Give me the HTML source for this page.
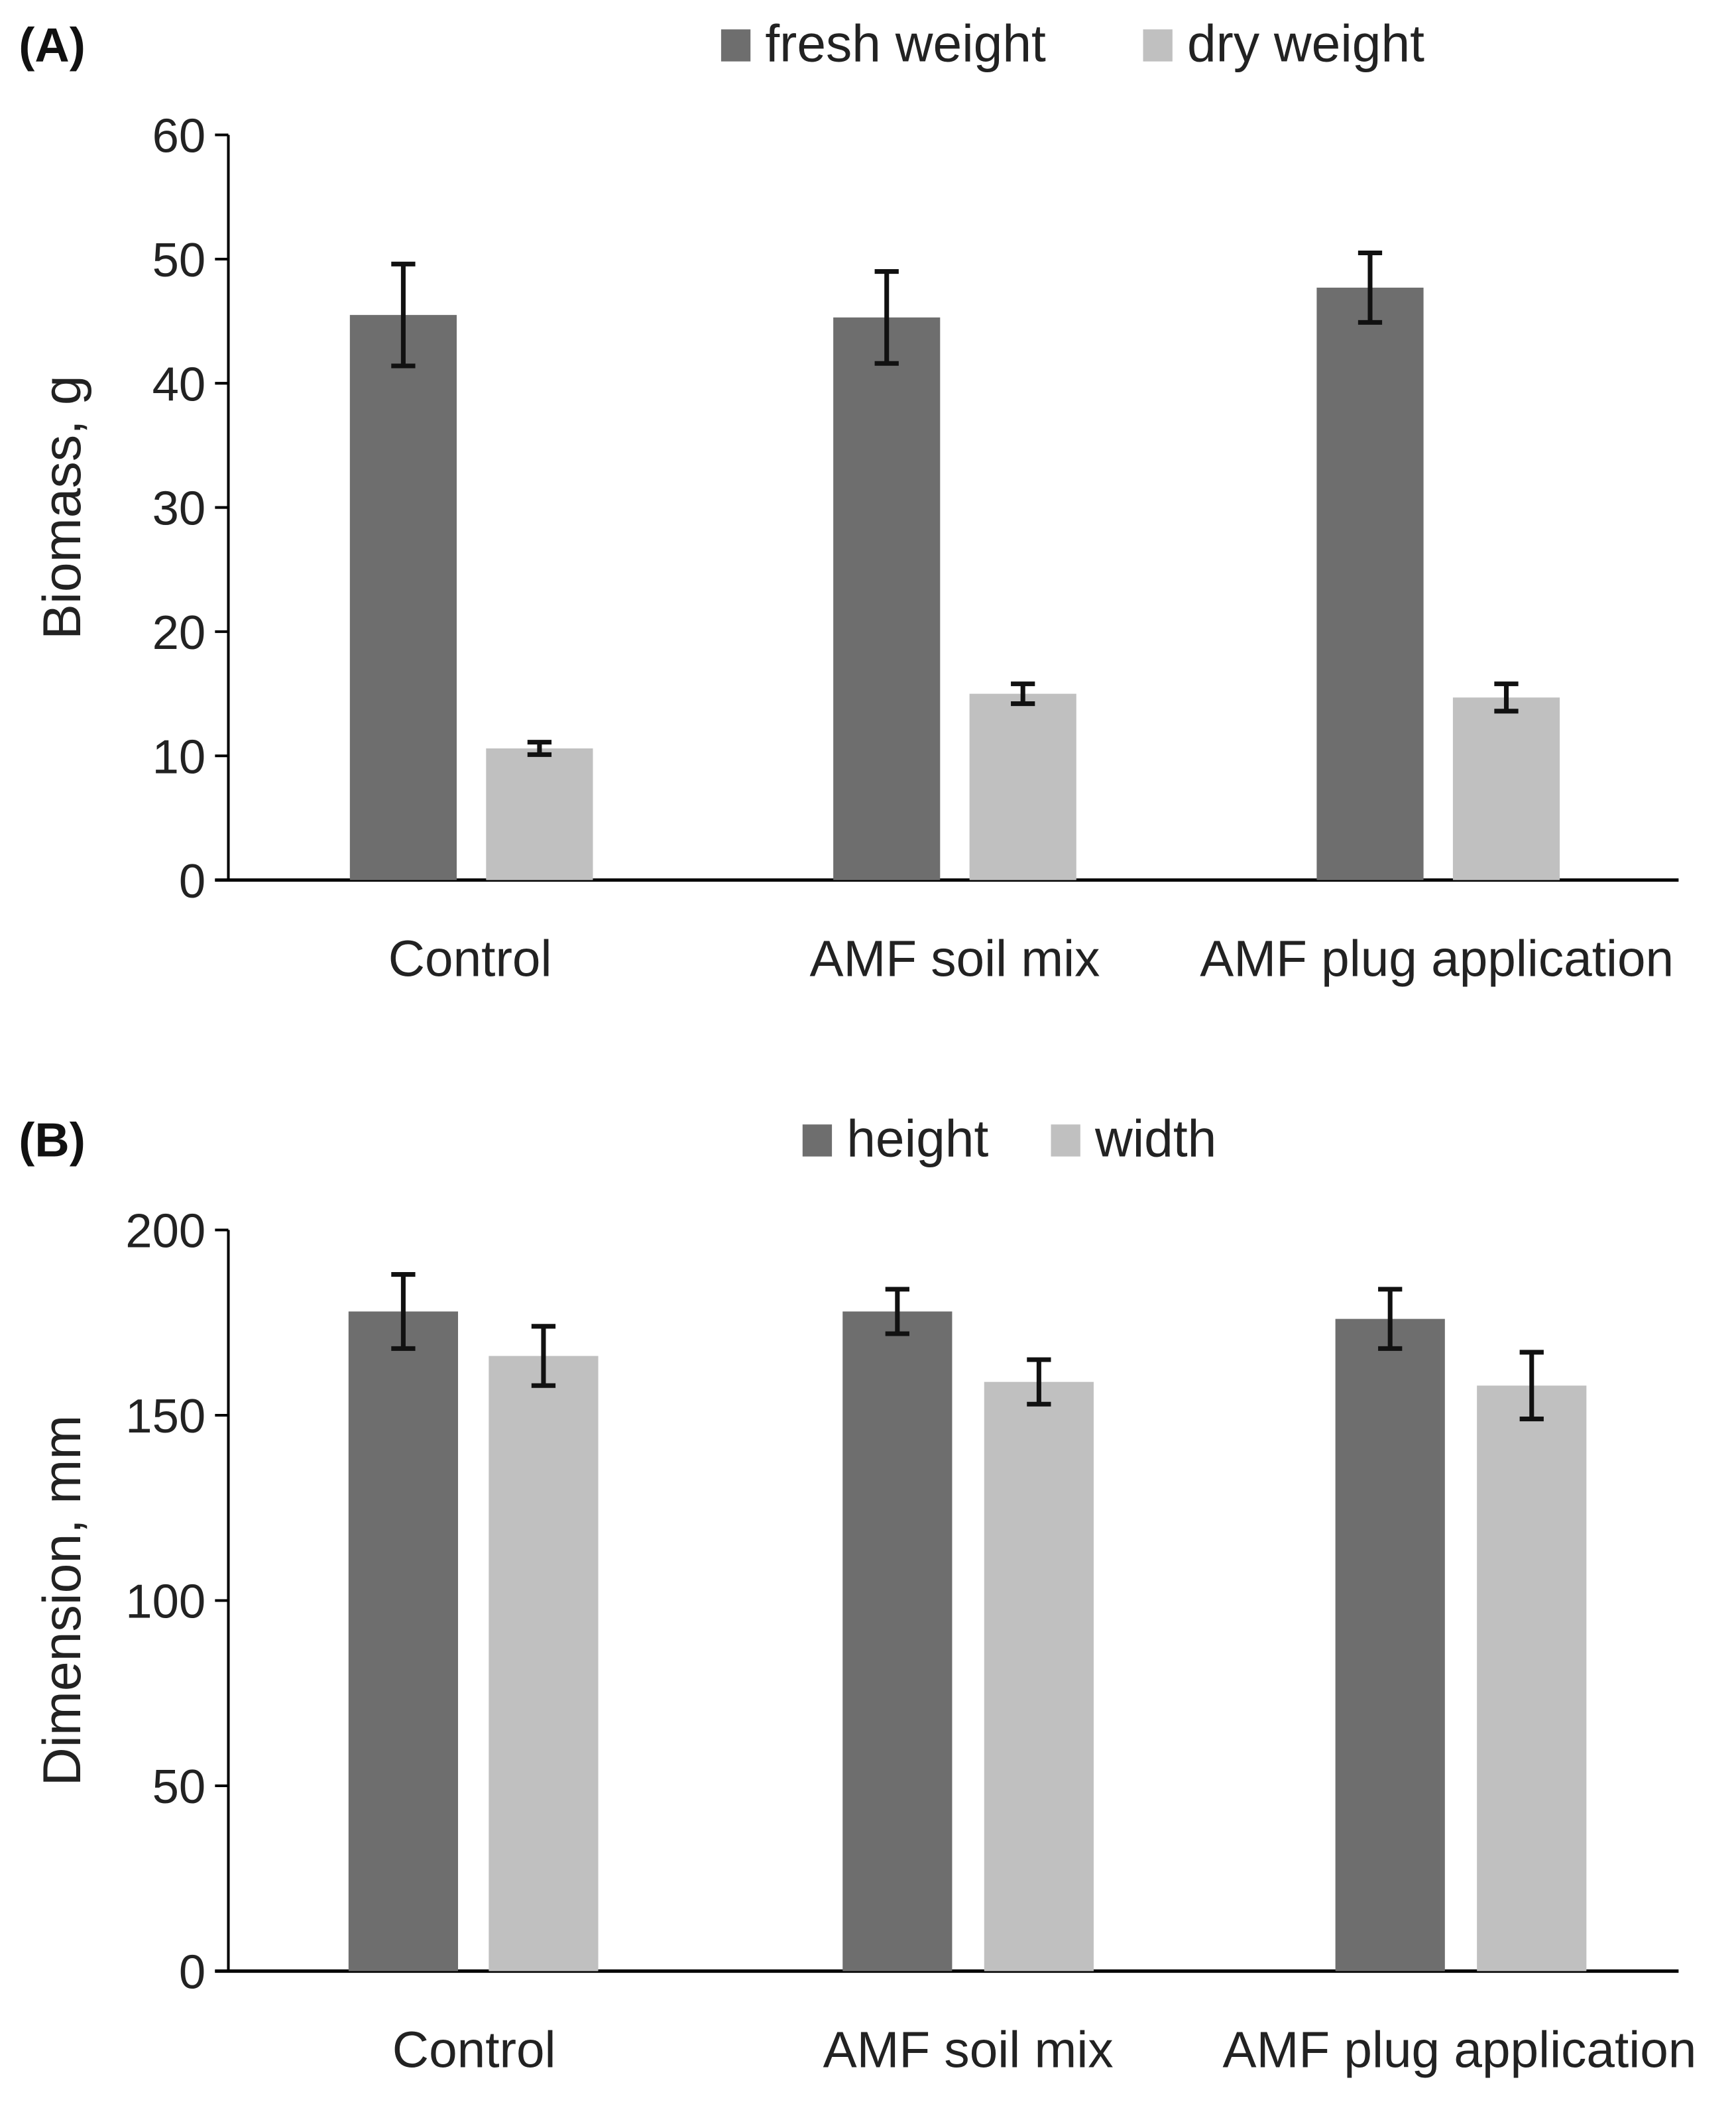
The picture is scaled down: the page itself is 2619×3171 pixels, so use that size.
<!DOCTYPE html>
<html><head><meta charset="utf-8"><style>
html,body{margin:0;padding:0;background:#fff;}
svg{display:block;font-family:"Liberation Sans",sans-serif;}
</style></head><body>
<svg id="chart" width="2619" height="3171" viewBox="0 0 1300 1574" preserveAspectRatio="none" xmlns="http://www.w3.org/2000/svg"></svg>
<script>
const categories = ["Control", "AMF soil mix", "AMF plug application"];
const freshWeight = [45.5, 45.3, 47.7];
const freshErr = [4.1, 3.7, 2.8];
const dryWeight = [10.6, 15.0, 14.7];
const dryErr = [0.5, 0.8, 1.1];
const ticksA = [0, 10, 20, 30, 40, 50, 60];
const heightVals = [178, 178, 176];
const heightErr = [10, 6, 8];
const widthVals = [166, 159, 158];
const widthErr = [8, 6, 9];
const ticksB = [0, 50, 100, 150, 200];

const svg = document.getElementById('chart');
const NS = 'http://www.w3.org/2000/svg';
function mk(tag, attrs, name, parent){
  const e = document.createElementNS(NS, tag);
  for (const k in attrs) e.setAttribute(k, attrs[k]);
  
  
  (parent||svg).appendChild(e);
  return e;
}
function panel(cfg){
  const g = mk('g', {}, cfg.id);
  const y = v => cfg.y0 - (v - 0) / cfg.max * (cfg.y0 - cfg.yTop);
  mk('line', {x1:cfg.ax, y1:cfg.yTop, x2:cfg.ax, y2:cfg.y0, stroke:'#000', 'stroke-width':2}, 'y-axis-line', g);
  mk('line', {x1:cfg.ax-10, y1:cfg.y0, x2:1257, y2:cfg.y0, stroke:'#000', 'stroke-width':2.5}, 'x-axis-line', g);
  cfg.ticks.forEach(t => {
    mk('line', {x1:cfg.ax-10, y1:y(t), x2:cfg.ax, y2:y(t), stroke:'#000', 'stroke-width':2}, 'y-tick', g);
    const tx = mk('text', {x:cfg.ax-17, y:y(t)+13, 'text-anchor':'end', 'font-size':36, fill:'#222'}, 'y-tick-label', g);
    tx.textContent = t;
  });
  const yt = mk('text', {x:0, y:0, transform:`translate(60,${(cfg.yTop+cfg.y0)/2}) rotate(-90)`, 'text-anchor':'middle', 'font-size':40, fill:'#222'}, 'y-axis-title', g);
  yt.textContent = cfg.ytitle;
  const pl = mk('text', {x:14, y:cfg.labelY, 'font-size':36, 'font-weight':'bold', fill:'#111'}, 'panel-label', g);
  pl.textContent = cfg.label;
  categories.forEach((c, i) => {
    [[cfg.s1, cfg.e1, '#6e6e6e', cfg.x1[i], 'bar-'+cfg.n1],[cfg.s2, cfg.e2, '#c0c0c0', cfg.x2[i], 'bar-'+cfg.n2]].forEach(([s, e, col, x, nm]) => {
      mk('rect', {x:x, y:y(s[i]), width:cfg.bw, height:cfg.y0 - y(s[i]), fill:col}, nm, g);
      const cx = x + cfg.bw/2, hi = y(s[i]+e[i]), lo = y(s[i]-e[i]);
      mk('line', {x1:cx, y1:hi, x2:cx, y2:lo, stroke:'#111', 'stroke-width':3.5}, 'error-bar', g);
      mk('line', {x1:cx-9, y1:hi, x2:cx+9, y2:hi, stroke:'#111', 'stroke-width':3.5}, 'error-cap', g);
      mk('line', {x1:cx-9, y1:lo, x2:cx+9, y2:lo, stroke:'#111', 'stroke-width':3.5}, 'error-cap', g);
    });
    const cl = mk('text', {x:cfg.cx[i], y:cfg.catY, 'text-anchor':'middle', 'font-size':38, fill:'#222'}, 'x-category-label', g);
    cl.textContent = c;
  });
  cfg.legend.forEach(l => {
    const lg = mk('g', {}, 'legend-entry', g);
    mk('rect', {x:l.x, y:cfg.legY-24, width:22, height:24, fill:l.col}, 'legend-swatch', lg);
    const t = mk('text', {x:l.x+33, y:cfg.legY, 'font-size':39, fill:'#222'}, 'legend-label', lg);
    t.textContent = l.t;
  });
}
panel({id:'panel-a', ax:171, yTop:101, y0:659, max:60, ticks:ticksA, ytitle:'Biomass, g', label:'(A)', labelY:46,
  s1:freshWeight, e1:freshErr, s2:dryWeight, e2:dryErr, n1:'fresh-weight', n2:'dry-weight',
  x1:[262,624,986], x2:[364,726,1088], bw:80, cx:[352,715,1076], catY:731, legY:46,
  legend:[{x:540,col:'#6e6e6e',t:'fresh weight'},{x:856,col:'#c0c0c0',t:'dry weight'}]});
panel({id:'panel-b', ax:171, yTop:921, y0:1476, max:200, ticks:ticksB, ytitle:'Dimension, mm', label:'(B)', labelY:866,
  s1:heightVals, e1:heightErr, s2:widthVals, e2:widthErr, n1:'height', n2:'width',
  x1:[261,631,1000], x2:[366,737,1106], bw:82, cx:[355,725,1093], catY:1548, legY:866,
  legend:[{x:601,col:'#6e6e6e',t:'height'},{x:787,col:'#c0c0c0',t:'width'}]});
</script>
</body></html>
